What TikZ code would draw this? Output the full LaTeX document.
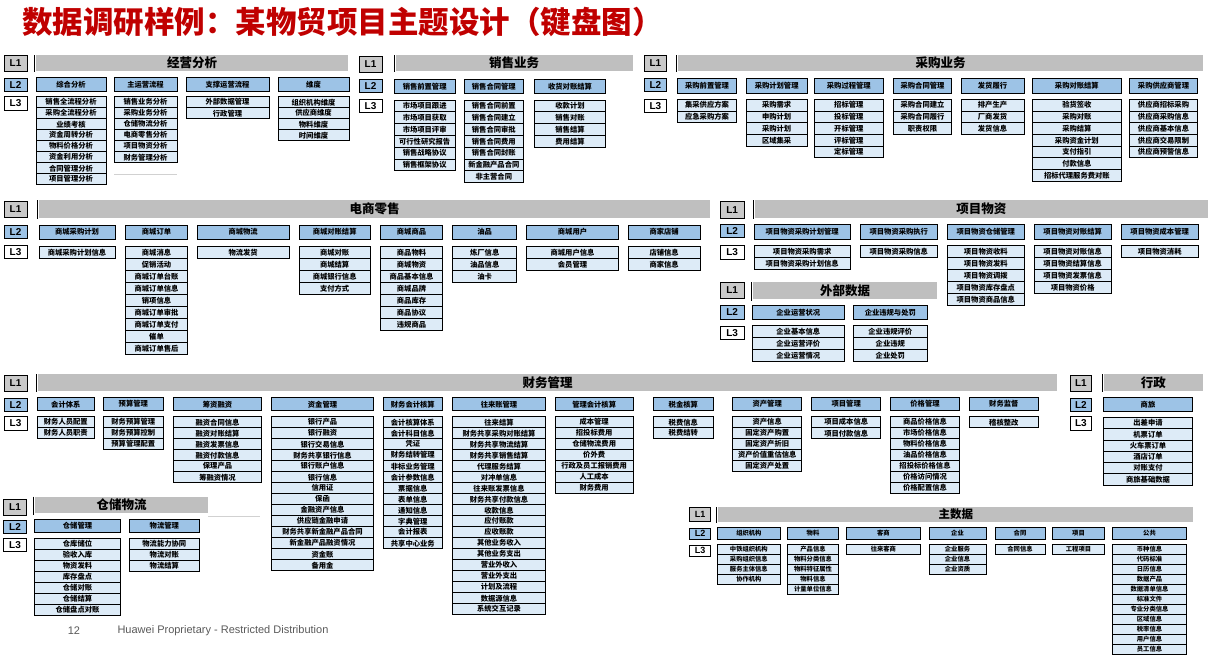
\documentclass[tikz,border=0pt]{standalone}
\usepackage{fontspec}
\setmainfont{Noto Sans CJK SC}
\newfontfamily\latin{Liberation Sans}
\usepackage{tikz}
\usetikzlibrary{positioning}
\definecolor{titlered}{HTML}{C00000}
\definecolor{barfill}{HTML}{BFBFBF}
\definecolor{tagone}{HTML}{C9C9C9}
\definecolor{ltwofill}{HTML}{9DC3E6}
\definecolor{lthreefill}{HTML}{DDEBF7}
\definecolor{footgray}{HTML}{595959}
\newcommand\cellfont{\bfseries\fontsize{7.3}{8}\selectfont}
\tikzset{bar/.style={fill=barfill,inner sep=0,outer sep=0,font=\bfseries\fontsize{12.5}{13}\selectfont},
  ltwo/.style={draw,line width=0.9pt,fill=ltwofill,inner sep=0,outer sep=0,font=\cellfont},
  lthree/.style={draw,line width=0.8pt,fill=lthreefill,inner sep=0,outer sep=0,font=\cellfont},
  tag/.style={draw,line width=1pt,inner sep=0,outer sep=0,font=\latin\bfseries\fontsize{10}{10}\selectfont},
  rule/.style={line width=1pt},
  stray/.style={line width=0.8pt,black!18}}
% box from its corners: style, name, x1, y1, x2, y2, text
\newcommand\bx[7]{\node[#1,minimum width={#5-#3},minimum height={#6-#4}] (#2) at ({(#3+#5)/2},{(#4+#6)/2}) {#7};}
% L2 box with its L3 column below
\newcommand\grp[5]{%
  \node[ltwo,minimum width={#3-#2},minimum height={\ytb-\yta}] (#1) at ({(#2+#3)/2},{(\yta+\ytb)/2}) {#4};
  \foreach \txt [count=\k] in {#5}{%
    \node[lthree,minimum width={#3-#2},minimum height=\rh] (#1-\k) at ({(#2+#3)/2},{\ythr+(\k-0.5)*\rh}) {\txt};}}
% L1/L2/L3 tags
\newcommand\tagrow[6]{%
  \node[tag,fill=tagone,minimum width={#3-#2},minimum height=16.5] (#1L1) at ({(#2+#3)/2},{#4+8.25}) {L1};
  \node[tag,fill=ltwofill,minimum width={#3-#2},minimum height=13.5] (#1L2) at ({(#2+#3)/2},{#5+6.75}) {L2};
  \node[tag,fill=white,minimum width={#3-#2},minimum height=13.5] (#1L3) at ({(#2+#3)/2},{#6+6.75}) {L3};}

\begin{document}
\begin{tikzpicture}[x=1pt,y=-1pt]
\useasboundingbox (0,0) rectangle (1210,659);
\node[anchor=west,text=titlered,inner sep=0,font=\bfseries\fontsize{30.5}{31}\selectfont] (title) at (22,22) {数据调研样例：某物贸项目主题设计（键盘图）};

% 经营分析
\tagrow{jy}{4}{27}{55}{78.3}{96.7}
\bx{bar}{jy}{36}{55}{348}{70.7}{经营分析}
\def\yta{77.7}\def\ytb{91.7}\def\ythr{96.7}\def\rh{11}
\grp{jy1}{36}{106}{综合分析}{销售全流程分析,采购全流程分析,业绩考核,资金周转分析,物料价格分析,资金利用分析,合同管理分析,项目管理分析}
\grp{jy2}{114}{177}{主运营流程}{销售业务分析,采购业务分析,仓储物流分析,电商零售分析,项目物资分析,财务管理分析}
\grp{jy3}{186}{269}{支撑运营流程}{外部数据管理,行政管理}
\grp{jy4}{278}{349}{维度}{组织机构维度,供应商维度,物料维度,时间维度}
\draw[stray] ([yshift=-11.3pt]jy2-6.south west) -- ([yshift=-11.3pt]jy2-6.south east);

% 销售业务
\tagrow{xs}{359}{382}{56}{79.3}{99.3}
\bx{bar}{xs}{395.7}{55}{632.7}{70.7}{销售业务}
\def\yta{79.3}\def\ytb{93.3}\def\ythr{100}\def\rh{11.8}
\grp{xs1}{394.3}{455}{销售前置管理}{市场项目跟进,市场项目获取,市场项目评审,可行性研究报告,销售战略协议,销售框架协议}
\grp{xs2}{464.3}{523.3}{销售合同管理}{销售合同前置,销售合同建立,销售合同审批,销售合同费用,销售合同封账,新金融产品合同,非主营合同}
\grp{xs3}{534.3}{605.7}{收货对账结算}{收款计划,销售对账,销售结算,费用结算}

% 采购业务
\tagrow{cg}{644}{666.7}{55}{78.3}{99.3}
\bx{bar}{cg}{678}{55}{1203}{70.7}{采购业务}
\def\yta{78.3}\def\ytb{93.3}\def\ythr{99.3}\def\rh{11.7}
\grp{cg1}{677.3}{736.7}{采购前置管理}{集采供应方案,应急采购方案}
\grp{cg2}{746}{807.3}{采购计划管理}{采购需求,申购计划,采购计划,区域集采}
\grp{cg3}{814.3}{883.3}{采购过程管理}{招标管理,投标管理,开标管理,评标管理,定标管理}
\grp{cg4}{893.3}{951.7}{采购合同管理}{采购合同建立,采购合同履行,职责权限}
\grp{cg5}{961}{1024}{发货履行}{排产生产,厂商发货,发货信息}
\grp{cg6}{1032.7}{1121}{采购对账结算}{验货签收,采购对账,采购结算,采购资金计划,支付指引,付款信息,招标代理服务费对账}
\grp{cg7}{1129.3}{1197.7}{采购供应商管理}{供应商招标采购,供应商采购信息,供应商基本信息,供应商交易限制,供应商预警信息}

% 电商零售
\tagrow{ds}{4}{27}{201}{225}{245}
\bx{bar}{ds}{39.3}{200}{710}{217.7}{电商零售}
\def\yta{225}\def\ytb{239.3}\def\ythr{246.7}\def\rh{12}
\grp{ds1}{39}{115}{商城采购计划}{商城采购计划信息}
\grp{ds2}{125.7}{187.3}{商城订单}{商城消息,促销活动,商城订单台账,商城订单信息,销项信息,商城订单审批,商城订单支付,催单,商城订单售后}
\grp{ds3}{197.3}{289}{商城物流}{物流发货}
\grp{ds4}{299.3}{370}{商城对账结算}{商城对账,商城结算,商城银行信息,支付方式}
\grp{ds5}{380.7}{442.3}{商城商品}{商品物料,商城物资,商品基本信息,商城品牌,商品库存,商品协议,违规商品}
\grp{ds6}{452.7}{516.7}{油品}{炼厂信息,油品信息,油卡}
\grp{ds7}{526.7}{618.3}{商城用户}{商城用户信息,会员管理}
\grp{ds8}{628.3}{700}{商家店铺}{店铺信息,商家信息}

% 项目物资
\tagrow{xm}{720}{744.3}{201.7}{224.3}{245.7}
\bx{bar}{xm}{755}{200.3}{1207.7}{217.7}{项目物资}
\def\yta{224.3}\def\ytb{239.3}\def\ythr{245.7}\def\rh{12}
\grp{xm1}{754.3}{850}{项目物资采购计划管理}{项目物资采购需求,项目物资采购计划信息}
\grp{xm2}{860.3}{937.3}{项目物资采购执行}{项目物资采购信息}
\grp{xm3}{947.3}{1024.3}{项目物资仓储管理}{项目物资收料,项目物资发料,项目物资调拨,项目物资库存盘点,项目物资商品信息}
\grp{xm4}{1034.3}{1111}{项目物资对账结算}{项目物资对账信息,项目物资结算信息,项目物资发票信息,项目物资价格}
\grp{xm5}{1121}{1198.3}{项目物资成本管理}{项目物资消耗}

% 外部数据
\tagrow{wb}{720}{744.3}{282.3}{305.7}{326}
\bx{bar}{wb}{753.3}{282.3}{936.7}{299}{外部数据}
\def\yta{305.7}\def\ytb{319.3}\def\ythr{325.7}\def\rh{12}
\grp{wb1}{752.3}{844.3}{企业运营状况}{企业基本信息,企业运营评价,企业运营情况}
\grp{wb2}{853.3}{927.3}{企业违规与处罚}{企业违规评价,企业违规,企业处罚}

% 财务管理
\tagrow{cw}{4}{27}{375}{398.3}{416.7}
\bx{bar}{cw}{37.7}{374}{1057.3}{390.7}{财务管理}
\def\yta{397.7}\def\ytb{410.7}\def\ythr{416.7}\def\rh{11}
\grp{cw1}{37.3}{94.3}{会计体系}{财务人员配置,财务人员职责}
\grp{cw2}{103.3}{163.3}{预算管理}{财务预算管理,财务预算控制,预算管理配置}
\grp{cw3}{173.3}{261.7}{筹资融资}{融资合同信息,融资对账结算,融资发票信息,融资付款信息,保理产品,筹融资情况}
\grp{cw4}{271.7}{373.3}{资金管理}{银行产品,银行融资,银行交易信息,财务共享银行信息,银行账户信息,银行信息,信用证,保函,金融资产信息,供应链金融申请,财务共享新金融产品合同,新金融产品融资情况,资金账,备用金}
\grp{cw5}{383.3}{442.3}{财务会计核算}{会计核算体系,会计科目信息,凭证,财务结转管理,非标业务管理,会计参数信息,票据信息,表单信息,通知信息,字典管理,会计报表,共享中心业务}
\grp{cw6}{452.3}{545.7}{往来账管理}{往来结算,财务共享采购对账结算,财务共享物流结算,财务共享销售结算,代理服务结算,对冲单信息,往来账发票信息,财务共享付款信息,收款信息,应付账款,应收账款,其他业务收入,其他业务支出,营业外收入,营业外支出,计划及流程,数据源信息,系统交互记录}
\grp{cw7}{555}{633.3}{管理会计核算}{成本管理,招投标费用,仓储物流费用,价外费,行政及员工报销费用,人工成本,财务费用}
\grp{cw8}{653.3}{713.3}{税金核算}{税费信息,税费结转}
\grp{cw9}{732.7}{801.7}{资产管理}{资产信息,固定资产购置,固定资产折旧,资产价值重估信息,固定资产处置}
\grp{cw10}{811.7}{880.7}{项目管理}{项目成本信息,项目付款信息}
\grp{cw11}{890.7}{959.3}{价格管理}{商品价格信息,市场价格信息,物料价格信息,油品价格信息,招投标价格信息,价格访问情况,价格配置信息}
\grp{cw12}{969.3}{1038.3}{财务监督}{稽核整改}

% 行政
\tagrow{xz}{1070}{1091.7}{375}{398.3}{416.7}
\bx{bar}{xz}{1104}{374}{1202.7}{390.7}{行政}
\def\yta{397.7}\def\ytb{411.7}\def\ythr{417.3}\def\rh{11.3}
\grp{xz1}{1103.3}{1192.7}{商旅}{出差申请,机票订单,火车票订单,酒店订单,对账支付,商旅基础数据}

% 仓储物流
\tagrow{cc}{3.3}{26.7}{499}{520}{538.3}
\bx{bar}{cc}{35}{496.7}{208.3}{513.3}{仓储物流}
\def\yta{519.3}\def\ytb{532.7}\def\ythr{538.3}\def\rh{11}
\grp{cc1}{34.3}{120.7}{仓储管理}{仓库储位,验收入库,物资发料,库存盘点,仓储对账,仓储结算,仓储盘点对账}
\grp{cc2}{129.3}{199.3}{物流管理}{物流能力协同,物流对账,物流结算}
\draw[stray] ([yshift=-3.4pt]cc.south east) -- ++(52,0);

% 主数据
\bx{tag,fill=tagone,font=\latin\bfseries\fontsize{9}{9}\selectfont}{zsL1}{689.3}{507.3}{710.7}{521.7}{L1}
\bx{tag,fill=ltwofill,font=\latin\bfseries\fontsize{9}{9}\selectfont}{zsL2}{689.3}{528.3}{710.7}{539.3}{L2}
\bx{tag,fill=white,font=\latin\bfseries\fontsize{9}{9}\selectfont}{zsL3}{689.3}{545}{710.7}{556.7}{L3}
\bx{bar,font=\bfseries\fontsize{11.5}{12}\selectfont}{zs}{718.3}{507.3}{1193.3}{521.7}{主数据}
\def\yta{527.3}\def\ytb{539.3}\def\ythr{544.3}\def\rh{10}
\renewcommand\cellfont{\bfseries\fontsize{6.3}{7}\selectfont}
\grp{zs1}{717.7}{780}{组织机构}{中铁组织机构,采购组织信息,服务主体信息,协作机构}
\grp{zs2}{787.7}{838.3}{物料}{产品信息,物料分类信息,物料特征属性,物料信息,计量单位信息}
\grp{zs3}{846.7}{920}{客商}{往来客商}
\grp{zs4}{929}{986}{企业}{企业服务,企业信息,企业资质}
\grp{zs5}{995}{1045}{合同}{合同信息}
\grp{zs6}{1052.7}{1104.3}{项目}{工程项目}
\grp{zs7}{1112.3}{1186.7}{公共}{币种信息,代码标准,日历信息,数据产品,数据清单信息,标准文件,专业分类信息,区域信息,税率信息,用户信息,员工信息}

\foreach \b in {jy,xs,cg,ds,xm,wb,cw,xz,cc,zs}
  \draw[rule] ([xshift=-1.5pt]\b.north west) -- ([xshift=-1.5pt,yshift=-1.5pt]\b.south west);

\node[text=footgray,font=\latin\fontsize{11}{12}\selectfont] (page) at (74,631) {12};
\node[anchor=west,text=footgray,font=\latin\fontsize{11}{12}\selectfont] (foot) at (114,631) {Huawei Proprietary - Restricted Distribution};
\end{tikzpicture}
\end{document}
